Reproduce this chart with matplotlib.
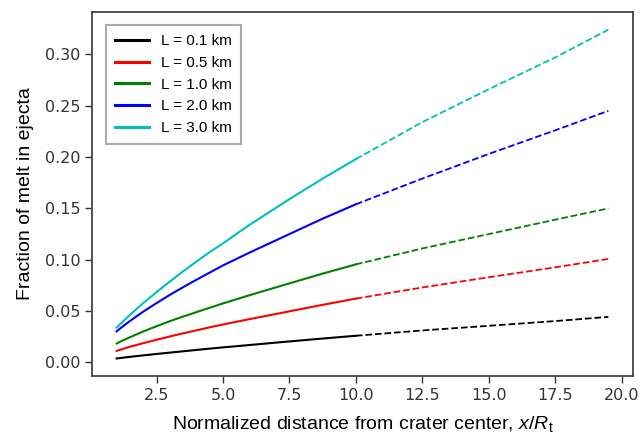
import matplotlib
matplotlib.use("Agg")
import matplotlib.pyplot as plt

plt.rcParams["mathtext.fontset"] = "custom"
plt.rcParams["mathtext.rm"] = "Liberation Sans"
plt.rcParams["mathtext.it"] = "Liberation Sans:italic"

# values
x_vals = [1.0, 1.25, 1.5, 2.0, 2.5, 3.0, 3.5, 4.0, 4.5, 5.0, 6.0, 7.5, 8.75,
          10.0, 12.5, 15.0, 17.5, 19.5]
split = 10.0  # solid up to here, dashed beyond

labels = ["L = 0.1 km", "L = 0.5 km", "L = 1.0 km", "L = 2.0 km", "L = 3.0 km"]
colors = ["k", "r", "g", "b", "c"]

melt_01 = [0.0039, 0.0047, 0.0055, 0.0069, 0.0083, 0.0096, 0.0109, 0.0122, 0.0135,
           0.0147, 0.0170, 0.0205, 0.0233, 0.0260, 0.0312, 0.0357, 0.0403, 0.0444]
melt_05 = [0.0113, 0.0133, 0.0153, 0.0188, 0.0221, 0.0253, 0.0284, 0.0313, 0.0342,
           0.0370, 0.0422, 0.0498, 0.0561, 0.0622, 0.0730, 0.0830, 0.0926, 0.1008]
melt_10 = [0.0185, 0.0217, 0.0246, 0.0302, 0.0353, 0.0402, 0.0447, 0.0490, 0.0533,
           0.0575, 0.0655, 0.0770, 0.0865, 0.0955, 0.1110, 0.1250, 0.1390, 0.1500]
melt_20 = [0.0304, 0.0355, 0.0404, 0.0495, 0.0578, 0.0658, 0.0733, 0.0805, 0.0875,
           0.0945, 0.1070, 0.1250, 0.1400, 0.1540, 0.1790, 0.2030, 0.2260, 0.2450]
melt_30 = [0.0340, 0.0403, 0.0464, 0.0578, 0.0685, 0.0788, 0.0887, 0.0982, 0.1074,
           0.1160, 0.1340, 0.1590, 0.1790, 0.1980, 0.2340, 0.2660, 0.2970, 0.3240]
series = [melt_01, melt_05, melt_10, melt_20, melt_30]

fig = plt.figure(figsize=(6.44, 4.36), dpi=100)
ax = fig.add_axes([0.143, 0.138, 0.840, 0.834])

for ys, lab, col in zip(series, labels, colors):
    xs_in = [x for x in x_vals if x <= split]
    ys_in = [y for x, y in zip(x_vals, ys) if x <= split]
    xs_out = [x for x in x_vals if x >= split]
    ys_out = [y for x, y in zip(x_vals, ys) if x >= split]
    ax.plot(xs_in, ys_in, color=col, lw=1.5, label=lab)
    ax.plot(xs_out, ys_out, color=col, lw=1.3, ls="--")

ax.set_xticks([2.5, 5.0, 7.5, 10.0, 12.5, 15.0, 17.5, 20.0])
ax.set_yticks([0.0, 0.05, 0.10, 0.15, 0.20, 0.25, 0.30])
ax.set_xlim(0.075, 20.43)
ax.set_ylim(-0.013, 0.341)
ax.tick_params(labelsize=11.5, labelcolor="#333333", color="#333333",
               length=5, width=1)
for s in ax.spines.values():
    s.set_color("#444444")
    s.set_linewidth(1.3)

lab_font = dict(family="Liberation Sans", size=14)
ax.set_ylabel("Fraction of melt in ejecta", labelpad=8, **lab_font)
ax.set_xlabel(r"Normalized distance from crater center, $x/R_{\rm t}$",
              labelpad=8, **lab_font)

leg = ax.legend(loc="upper left", prop={"family": "Liberation Sans", "size": 11},
                fancybox=False, edgecolor="#aaaaaa", framealpha=1,
                borderpad=0.6, handlelength=2.2, bbox_to_anchor=(0.012, 0.985))
leg.get_frame().set_linewidth(1.5)
for line in leg.get_lines():
    line.set_linewidth(2.2)

fig.savefig("out.png", dpi=100)
